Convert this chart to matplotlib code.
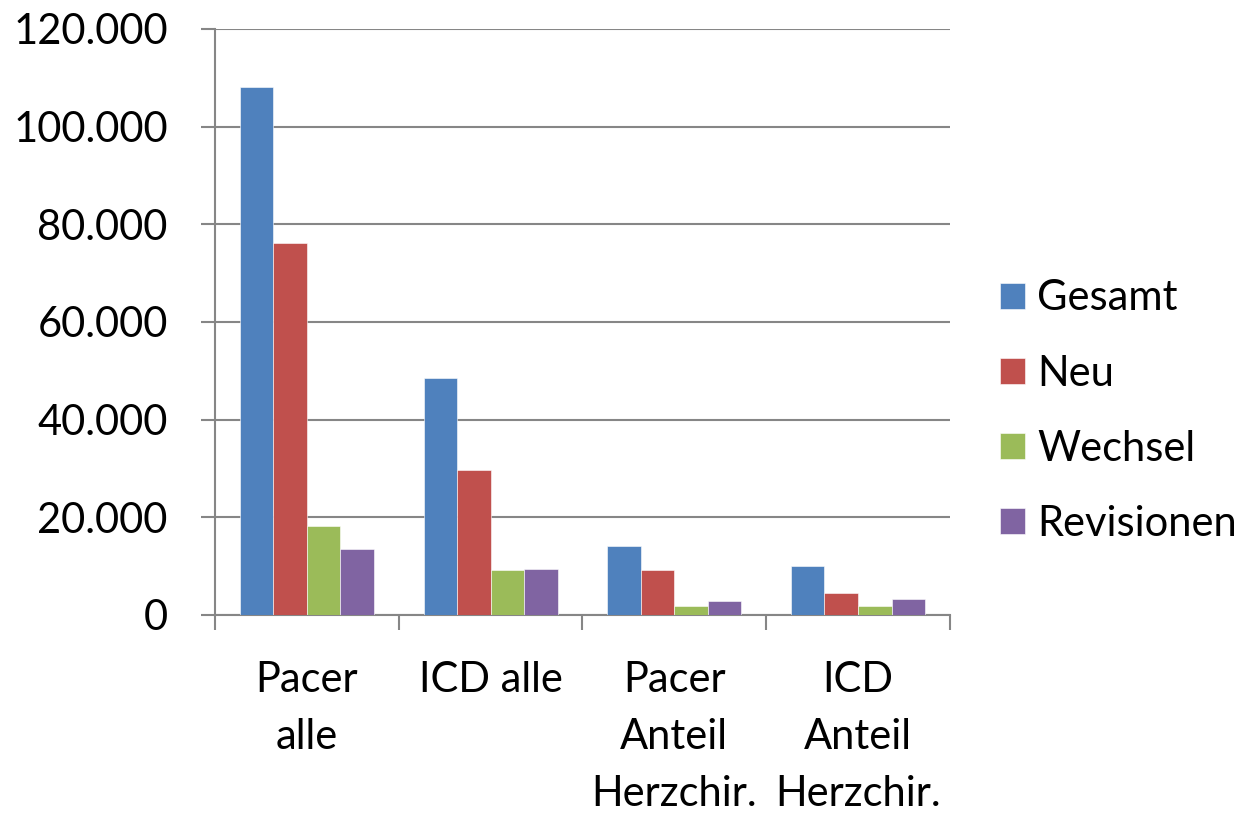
import numpy as np
import matplotlib
matplotlib.use("Agg")
import matplotlib.pyplot as plt
import matplotlib.ticker as ticker

plt.rcParams['font.family'] = ['Lato', 'DejaVu Sans']

kategorien = ["Pacer\nalle", "ICD alle", "Pacer\nAnteil\nHerzchir.", "ICD\nAnteil\nHerzchir."]
serien = ["Gesamt", "Neu", "Wechsel", "Revisionen"]
gesamt = [108200, 48600, 14200, 10100]
neu = [76200, 29600, 9200, 4500]
wechsel = [18300, 9200, 1900, 1900]
revisionen = [13500, 9500, 2900, 3300]
farben = ["#4F81BD", "#C0504D", "#9BBB59", "#8064A2"]

werte = [gesamt, neu, wechsel, revisionen]

fig = plt.figure(figsize=(12.52, 8.14), dpi=100)
ax = fig.add_axes([0.1717, 0.2445, 0.587, 0.7199])

x = np.arange(len(kategorien))
breite = 0.73 / 4
for i, (name, vals) in enumerate(zip(serien, werte)):
    ax.bar(x - 0.365 + breite * (i + 0.5), vals, width=breite, color=farben[i],
           label=name, zorder=3, edgecolor="white", linewidth=0.4)

grau = "#868686"
ax.set_ylim(0, 120000)
ax.set_xlim(-0.5, len(kategorien) - 0.5)
ax.yaxis.set_major_locator(ticker.MultipleLocator(20000))
ax.yaxis.set_major_formatter(ticker.FuncFormatter(lambda v, _: f"{int(v):,}".replace(",", ".")))
ax.grid(axis="y", color=grau, linewidth=1.5, zorder=0)
ax.set_axisbelow(True)

for s in ["top", "right"]:
    ax.spines[s].set_visible(False)
for s in ["left", "bottom"]:
    ax.spines[s].set_color(grau)
    ax.spines[s].set_linewidth(1.5)

# Kategoriegrenzen als Ticks, Beschriftung in der Mitte
ax.set_xticks(np.arange(-0.5, len(kategorien)), minor=False)
ax.set_xticklabels([])
ax.set_xticks(x, minor=True)
ax.set_xticklabels(kategorien, minor=True, fontsize=30, linespacing=1.62)
ax.tick_params(axis="x", which="major", length=11, width=1.5, color=grau)
ax.tick_params(axis="x", which="minor", length=0, pad=33)
ax.tick_params(axis="y", length=10, width=1.5, color=grau, labelsize=30, pad=24)

ax.legend(loc="center left", bbox_to_anchor=(1.045, 0.348), frameon=False, fontsize=30,
          borderaxespad=0, handlelength=0.6, handleheight=0.6, handletextpad=0.3,
          labelspacing=0.89)

fig.savefig("out.png", dpi=100)
